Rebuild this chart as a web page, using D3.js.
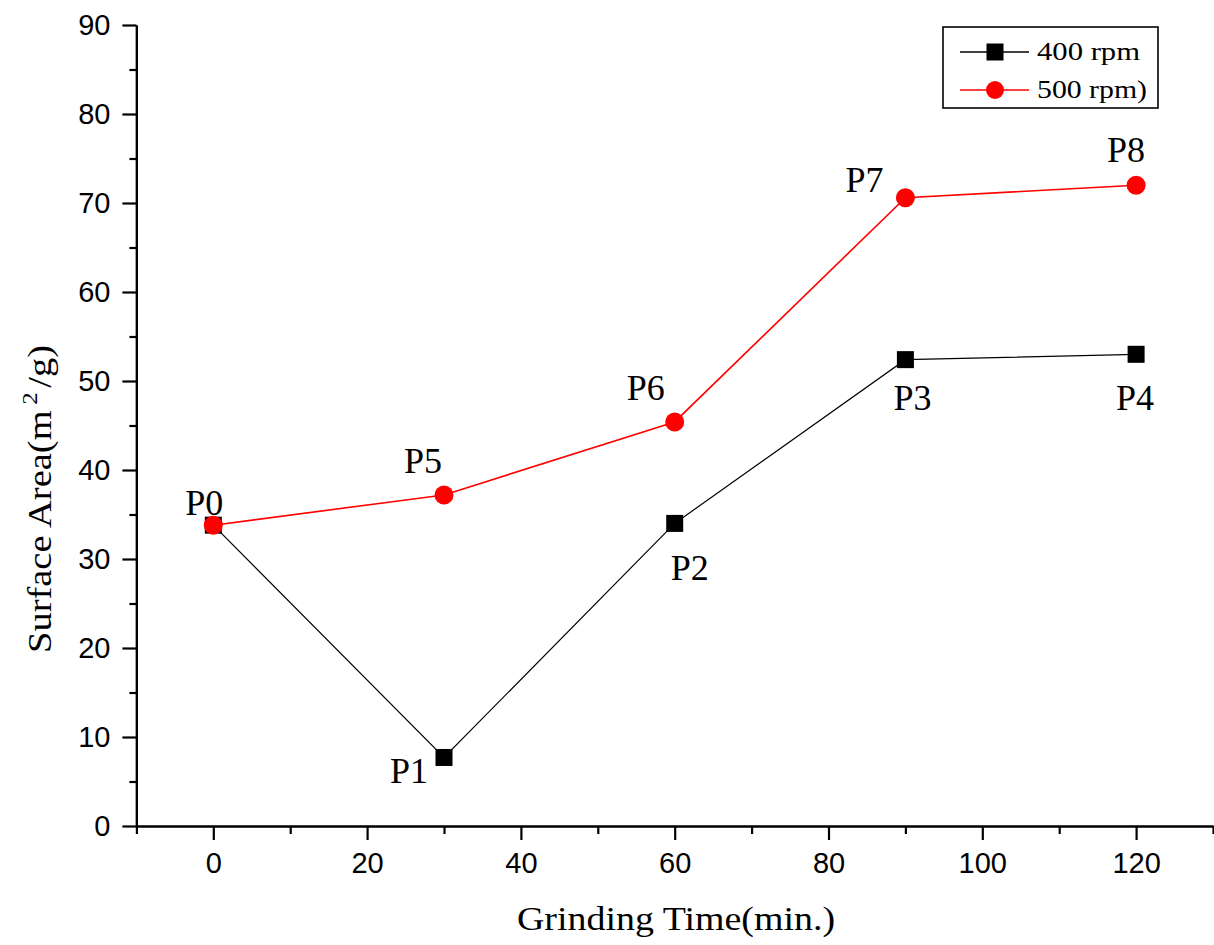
<!DOCTYPE html>
<html>
<head>
<meta charset="utf-8">
<script src="https://cdn.jsdelivr.net/npm/d3@7"></script>
<style>
  html, body { margin: 0; padding: 0; background: #fff; }
  svg { display: block; }
</style>
</head>
<body>
<svg id="chart" width="1214" height="945"></svg>
<script>
// ---- data ----
const grindTimes = [0, 30, 60, 90, 120];
const area400 = [33.8, 7.7, 34.0, 52.4, 53.0];
const area500 = [33.8, 37.2, 45.4, 70.6, 72.0];
const labels400 = ["P0", "P1", "P2", "P3", "P4"];
const labels500 = ["P0", "P5", "P6", "P7", "P8"];
const seriesNames = ["400 rpm", "500 rpm)"];
const xMajorTicks = [0, 20, 40, 60, 80, 100, 120];
const xMinorTicks = [-10, 10, 30, 50, 70, 90, 110, 130];
const yMajorTicks = [0, 10, 20, 30, 40, 50, 60, 70, 80, 90];
const yMinorTicks = [5, 15, 25, 35, 45, 55, 65, 75, 85];
const xTitle = "Grinding Time(min.)";

// ---- layout ----
const svg = d3.select("#chart");
const x = d3.scaleLinear().domain([-10, 130]).range([136.4, 1213]);
const y = d3.scaleLinear().domain([0, 90]).range([826, 25]);
const sansFont = "'Liberation Sans', Arial, sans-serif";
const serifFont = "'Liberation Serif', 'Times New Roman', serif";

// label offsets (layout only): [dx, dy] from point centre to label baseline-middle
const labelOffsets = {
  P0: [-9, -10], P1: [-35, 26], P2: [15, 57], P3: [7, 50], P4: [-1, 56],
  P5: [-21, -22], P6: [-29, -22], P7: [-41, -6], P8: [-10, -23]
};

// ---- axes ----
function styleAxis(g) {
  g.select(".domain").attr("stroke", "#000").attr("stroke-width", 2.2);
  g.selectAll(".tick line").attr("stroke", "#000").attr("stroke-width", 2.2);
  g.selectAll(".tick text").attr("fill", "#000")
    .style("font-family", sansFont).style("font-size", "29px");
}

// x minor
svg.append("g").attr("transform", `translate(0,${y(0)})`)
  .call(d3.axisBottom(x).tickValues(xMinorTicks).tickSize(8).tickSizeOuter(0).tickFormat(""))
  .call(styleAxis);
// x major
svg.append("g").attr("transform", `translate(0,${y(0)})`)
  .call(d3.axisBottom(x).tickValues(xMajorTicks).tickSize(14).tickPadding(12).tickSizeOuter(0))
  .call(styleAxis);
// y minor
svg.append("g").attr("transform", `translate(${x(-10)},0)`)
  .call(d3.axisLeft(y).tickValues(yMinorTicks).tickSize(7).tickSizeOuter(0).tickFormat(""))
  .call(styleAxis);
// y major
svg.append("g").attr("transform", `translate(${x(-10)},0)`)
  .call(d3.axisLeft(y).tickValues(yMajorTicks).tickSize(14).tickPadding(12).tickSizeOuter(0))
  .call(styleAxis);

// axis titles
svg.append("text")
  .attr("x", 676).attr("y", 930)
  .attr("text-anchor", "middle")
  .attr("textLength", 318).attr("lengthAdjust", "spacingAndGlyphs")
  .style("font-family", serifFont).style("font-size", "34px").attr("fill", "#000")
  .text(xTitle);

const yt = svg.append("text")
  .attr("transform", "translate(51,499) rotate(-90)")
  .attr("text-anchor", "middle")
  .attr("textLength", 308).attr("lengthAdjust", "spacingAndGlyphs")
  .style("font-family", serifFont).style("font-size", "34px").attr("fill", "#000");
yt.append("tspan").text("Surface Area(m");
yt.append("tspan").attr("dx", 5).attr("dy", -14).style("font-size", "22px").text("2");
yt.append("tspan").attr("dx", 4).attr("dy", 14).text("/g)");

// ---- series ----
const data400 = grindTimes.map((t, i) => ({ t, v: area400[i], label: labels400[i] }));
const data500 = grindTimes.map((t, i) => ({ t, v: area500[i], label: labels500[i] }));
const line = d3.line().x(d => x(d.t)).y(d => y(d.v));

svg.append("path").datum(data400).attr("d", line)
  .attr("fill", "none").attr("stroke", "#000").attr("stroke-width", 1.2);
svg.selectAll("rect.m400").data(data400).join("rect").attr("class", "m400")
  .attr("x", d => x(d.t) - 8.5).attr("y", d => y(d.v) - 8.5)
  .attr("width", 17).attr("height", 17).attr("fill", "#000");

svg.append("path").datum(data500).attr("d", line)
  .attr("fill", "none").attr("stroke", "#ff0000").attr("stroke-width", 1.6);
svg.selectAll("circle.m500").data(data500).join("circle").attr("class", "m500")
  .attr("cx", d => x(d.t)).attr("cy", d => y(d.v)).attr("r", 9.5).attr("fill", "#ff0000");

// point labels
const allLabels = data400.concat(data500.slice(1));
svg.selectAll("text.plabel").data(allLabels).join("text").attr("class", "plabel")
  .attr("x", d => x(d.t) + labelOffsets[d.label][0])
  .attr("y", d => y(d.v) + labelOffsets[d.label][1])
  .attr("text-anchor", "middle")
  .style("font-family", serifFont).style("font-size", "36px").attr("fill", "#000")
  .text(d => d.label);

// ---- legend ----
const lg = svg.append("g");
lg.append("rect").attr("x", 943).attr("y", 27).attr("width", 215).attr("height", 81)
  .attr("fill", "#fff").attr("stroke", "#000").attr("stroke-width", 1.6);
const legendRows = [
  { name: seriesNames[0], color: "#000", shape: "square", cy: 52, w: 103 },
  { name: seriesNames[1], color: "#ff0000", shape: "circle", cy: 90, w: 110 }
];
legendRows.forEach(r => {
  lg.append("line").attr("x1", 960).attr("x2", 1029).attr("y1", r.cy).attr("y2", r.cy)
    .attr("stroke", r.color).attr("stroke-width", 1.6);
  if (r.shape === "square") {
    lg.append("rect").attr("x", 995 - 8.5).attr("y", r.cy - 8.5).attr("width", 17).attr("height", 17).attr("fill", r.color);
  } else {
    lg.append("circle").attr("cx", 995).attr("cy", r.cy).attr("r", 9).attr("fill", r.color);
  }
  lg.append("text").attr("x", 1037).attr("y", r.cy + 8)
    .attr("textLength", r.w).attr("lengthAdjust", "spacingAndGlyphs")
    .style("font-family", serifFont).style("font-size", "26px").attr("fill", "#000")
    .text(r.name);
});
</script>
</body>
</html>
